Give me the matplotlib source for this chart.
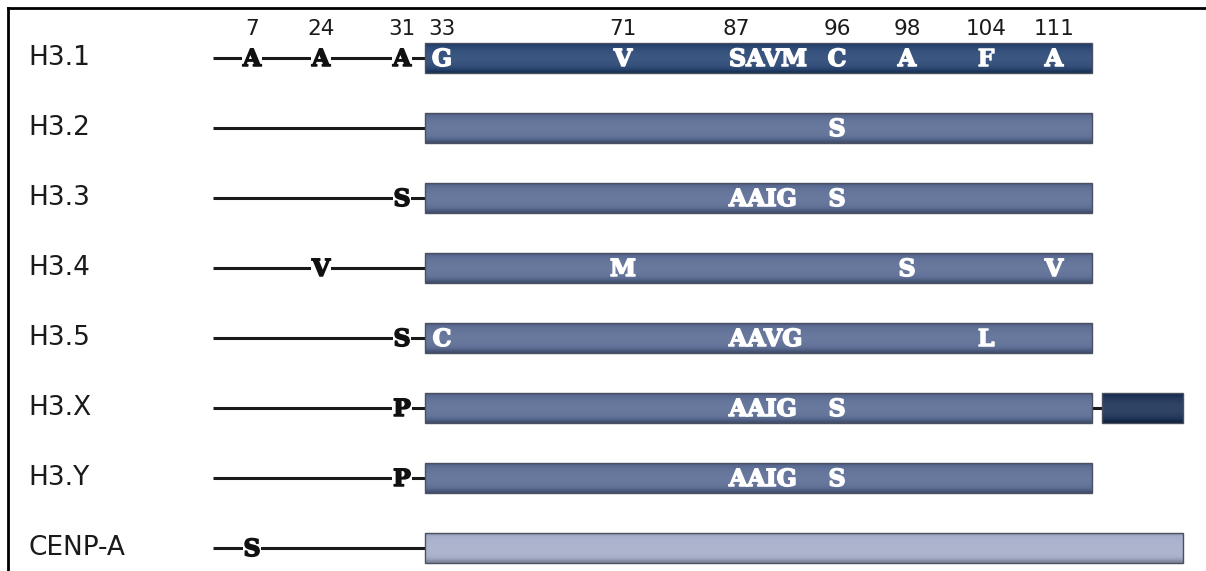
import numpy as np
import matplotlib
matplotlib.use("Agg")
import matplotlib.pyplot as plt
import matplotlib.patheffects as pe
from matplotlib.patches import Rectangle
from matplotlib.lines import Line2D
from matplotlib.colors import to_rgb

# variants, top to bottom
variants = ["H3.1", "H3.2", "H3.3", "H3.4", "H3.5", "H3.X", "H3.Y", "CENP-A"]

# residue numbers written above the H3.1 row
residues = [7, 24, 31, 33, 71, 87, 96, 98, 104, 111]

# substitutions in the N-terminal tail (residue, letter)
tail_marks = {
    "H3.1": [(7, "A"), (24, "A"), (31, "A")],
    "H3.2": [],
    "H3.3": [(31, "S")],
    "H3.4": [(24, "V")],
    "H3.5": [(31, "S")],
    "H3.X": [(31, "P")],
    "H3.Y": [(31, "P")],
    "CENP-A": [(7, "S")],
}

# substitutions in the histone fold (residue, letters)
core_marks = {
    "H3.1": [(33, "G"), (71, "V"), (87, "SAVM"), (96, "C"), (98, "A"), (104, "F"), (111, "A")],
    "H3.2": [(96, "S")],
    "H3.3": [(87, "AAIG"), (96, "S")],
    "H3.4": [(71, "M"), (98, "S"), (111, "V")],
    "H3.5": [(33, "C"), (87, "AAVG"), (104, "L")],
    "H3.X": [(87, "AAIG"), (96, "S")],
    "H3.Y": [(87, "AAIG"), (96, "S")],
    "CENP-A": [],
}

# which variants have a longer C-terminus
c_extension = ["H3.X"]
long_core = ["CENP-A"]

# ---- schematic layout (figure is drawn in pixel-like units) ----
W, H = 1206, 571
site_x = {7: 252, 24: 321, 31: 402, 33: 442, 71: 623, 87: 736,
          96: 837, 98: 907, 104: 986, 111: 1054}
TAIL_START, CORE_START, CORE_END = 213, 425, 1092
EXT_START, LONG_END = 1102, 1183
ROW0, ROW_STEP, HALF_H = 58, 70, 15

core_colors = {"H3.1": "#1e3d6d", "CENP-A": "#a2aac7"}
default_core = "#53658f"
ext_color = "#11284e"


def shade(base, n=40):
    c = np.array(to_rgb(base))
    t = np.linspace(0, 1, n)
    light = 0.13 * np.sin(np.pi * t) ** 0.8
    dark = 0.22 * np.exp(-((t - 1.0) / 0.12) ** 2) + 0.12 * np.exp(-(t / 0.06) ** 2)
    col = c[None, :] + (1 - c[None, :]) * light[:, None]
    col = col * (1 - dark[:, None])
    return np.clip(col[:, None, :], 0, 1)


def bar(ax, x0, x1, yc, color):
    img = ax.imshow(shade(color), extent=(x0, x1, yc + HALF_H, yc - HALF_H),
                    aspect="auto", interpolation="bilinear", zorder=2)
    r = Rectangle((x0, yc - HALF_H), x1 - x0, 2 * HALF_H, fill=False,
                  edgecolor="#4b5060", lw=1.0, zorder=3)
    ax.add_patch(r)
    img.set_clip_path(r)


fig = plt.figure(figsize=(W / 100, H / 100), dpi=100)
ax = fig.add_axes([0, 0, 1, 1])
ax.axis("off")

mark_font = dict(family="DejaVu Serif", weight="bold", fontsize=17)
white_fx = [pe.withStroke(linewidth=1.1, foreground="white")]
black_fx = [pe.withStroke(linewidth=1.1, foreground="#111111")]

for i, name in enumerate(variants):
    yc = ROW0 + ROW_STEP * i
    ax.text(28, yc, name, fontsize=19, family="DejaVu Sans", ha="left",
            va="center", color="#1a1a1a")
    # tail
    ax.plot([TAIL_START, CORE_START], [yc, yc], color="#1a1a1a", lw=2.2,
            solid_capstyle="butt", zorder=1)
    for res, letter in tail_marks[name]:
        ax.text(site_x[res], yc + 1, letter, ha="center", va="center", color="#111111",
                bbox=dict(boxstyle="square,pad=0.03", fc="white", ec="none"),
                zorder=4, path_effects=black_fx, **mark_font)
    # histone fold
    end = LONG_END if name in long_core else CORE_END
    bar(ax, CORE_START, end, yc, core_colors.get(name, default_core))
    if name in c_extension:
        ax.plot([CORE_END, EXT_START], [yc, yc], color="#1a1a1a", lw=2.2, zorder=1)
        bar(ax, EXT_START, LONG_END, yc, ext_color)
    for res, letters in core_marks[name]:
        if len(letters) > 1:
            ax.text(site_x[res] - 7, yc + 1, letters, ha="left", va="center",
                    color="white", zorder=4, path_effects=white_fx, **mark_font)
        else:
            ax.text(site_x[res], yc + 1, letters, ha="center", va="center",
                    color="white", zorder=4, path_effects=white_fx, **mark_font)

for res in residues:
    ax.text(site_x[res], 29, str(res), ha="center", va="center", fontsize=15.5,
            family="DejaVu Sans", color="#1a1a1a")

ax.set_xlim(0, W)
ax.set_ylim(H, 0)

# frame on top and left
fig.add_artist(Line2D([8 / W, 1], [1 - 8 / H, 1 - 8 / H], color="black", lw=2))
fig.add_artist(Line2D([8 / W, 8 / W], [0, 1 - 8 / H], color="black", lw=2))

fig.savefig("out.png", dpi=100, facecolor="white")
